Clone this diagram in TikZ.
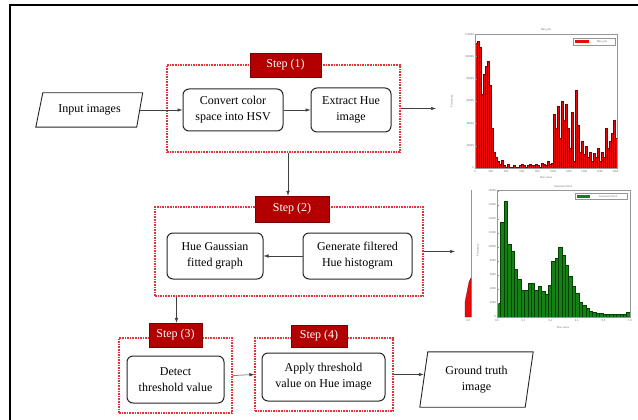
\documentclass[tikz,border=0pt]{standalone}
\usepackage{fontspec}
\setmainfont{Liberation Serif}
\usetikzlibrary{arrows.meta}
\definecolor{stepred}{RGB}{178,0,0}
\definecolor{grpred}{RGB}{228,50,62}
\definecolor{barred}{RGB}{235,10,10}
\definecolor{bargreen}{RGB}{22,128,22}
\definecolor{axisgray}{RGB}{150,150,150}

\begin{document}
\begin{tikzpicture}[x=1pt,y=-1pt,
  proc/.style={draw=black!85, line width=1pt, rounded corners=6pt, align=center,
    font=\fontsize{12}{16}\selectfont, inner sep=0pt},
  group/.style={draw=grpred, line width=1.1pt, dash pattern=on 1.6pt off 1pt, inner sep=0pt},
  steplabel/.style={fill=stepred, draw=stepred!70!black, line width=0.4pt, text=white,
    font=\fontsize{12}{14}\selectfont, inner sep=0pt},
  io/.style={inner sep=0pt, align=center, font=\fontsize{12}{16}\selectfont},
  iobox/.style={draw=black!85, line width=0.9pt},
  arr/.style={-{Latex[length=5pt,width=3.5pt]}, line width=0.5pt, draw=black!75},
  tinytext/.style={font=\fontsize{3}{3.5}\selectfont, text=black!55, inner sep=0pt},
  axisframe/.style={draw=axisgray, line width=0.4pt},
]
\useasboundingbox (0,0) rectangle (638,420);

% outer frame (top and left edges)
\draw[line width=2pt] (638,5) -- (10,5) -- (10,420);

% ---------- step groups ----------
\node[group, minimum width=233pt, minimum height=87pt] (box1) at (283.5,108.5) {};
\node[group, minimum width=268pt, minimum height=89pt] (box2) at (289,251.5) {};
\node[group, minimum width=113pt, minimum height=75pt] (box3) at (175.5,375.5) {};
\node[group, minimum width=138pt, minimum height=73pt] (box4) at (324,374.5) {};

\node[steplabel, minimum width=71pt, minimum height=24pt] (lab1) at (285.5,65) {Step (1)};
\node[steplabel, minimum width=74pt, minimum height=26pt] (lab2) at (292,209) {Step (2)};
\node[steplabel, minimum width=53pt, minimum height=24pt] (lab3) at (175.5,335) {Step (3)};
\node[steplabel, minimum width=56pt, minimum height=22pt] (lab4) at (319,336) {Step (4)};

% ---------- process boxes ----------
\node[proc, minimum width=100pt, minimum height=42pt] (conv) at (233,110) {Convert color\\space into HSV};
\node[proc, minimum width=80pt, minimum height=44pt] (ext) at (351,110) {Extract Hue\\image};
\node[proc, minimum width=96pt, minimum height=46pt] (hue) at (215,256) {Hue Gaussian\\fitted graph};
\node[proc, minimum width=109pt, minimum height=46pt] (gen) at (357.5,256) {Generate filtered\\Hue histogram};
\node[proc, minimum width=97pt, minimum height=47pt] (det) at (175.5,379.5) {Detect\\threshold value};
\node[proc, minimum width=123pt, minimum height=48pt] (app) at (323.5,377) {Apply threshold\\value on Hue image};

% ---------- input / output ----------
\node[io, minimum width=100pt, minimum height=34pt] (inp) at (89.5,110) {Input images};
\draw[iobox] ([xshift=-3.5pt]inp.south west) -- ([xshift=3.5pt]inp.north west)
  -- ([xshift=3pt]inp.north east) -- ([xshift=-3pt]inp.south east) -- cycle;
\node[io, minimum width=105pt, minimum height=55pt] (gt) at (476.5,379.5) {Ground truth\\image};
\draw[iobox] ([xshift=-4pt]gt.south west) -- ([xshift=4pt]gt.north west)
  -- ([xshift=4pt]gt.north east) -- ([xshift=-4pt]gt.south east) -- cycle;

% ---------- histogram of the Hue image ----------
\foreach \h [count=\i from 0] in {0.93,0.95,0.90,0.55,0.70,0.76,0.80,0.62,0.30,0.12,
  0.08,0.05,0.03,0.06,
  0.02,0.01,0.03,0.01,0.01,0.02,0.01,0.01,0.02,0.03,0.02,0.01,0.02,0.03,0.02,0.02,
  0.03,0.02,0.01,0.04,0.03,0.02,0.05,0.03,0.04,
  0.40,0.30,0.46,0.22,0.50,0.36,0.48,0.30,0.15,0.42,0.05,0.58,0.32,0.12,0.20,0.10,
  0.16,0.08,0.12,0.05,0.11,0.08,0.15,0.05,0.12,0.08,0.30,0.15,0.20,0.26,0.36,0.22}
  \filldraw[fill=barred, draw=red!45!black, line width=0.25pt]
    ({475+2*\i},168) rectangle ({477+2*\i},{168-134*\h});
\draw[axisframe] (475,34) rectangle (617,168);
\foreach \k/\t in {0/0,1/20000,2/40000,3/60000,4/80000,5/100000,6/120000} {
  \draw[axisgray, line width=0.3pt] (475,{168-\k*22.33}) -- ++(2,0);
  \node[tinytext, anchor=east] at (474,{168-\k*22.33}) {\t};
}
\foreach \k/\t in {0/0,1/200,2/400,3/600,4/800,5/1000,6/1200,7/1400,8/1600,9/1800} {
  \node[tinytext] at ({475+\k*15.6},172) {\t};
}
\node[tinytext] at (546,30) {Hue plot};
\node[tinytext] at (546,177) {Hue value};
\node[tinytext, rotate=90] at (452,101) {Frequency};
\draw[axisframe] (573,38) rectangle (615,45);
\fill[barred] (575,40) rectangle (589,43);
\node[tinytext] at (602,41.5) {Hue plot};

% ---------- filtered Hue histogram ----------
\draw[axisgray, line width=0.4pt] (471,190) -- (471,317);
\filldraw[fill=barred, draw=red!45!black, line width=0.25pt]
  (465,317) -- (465,302) -- (467,292) -- (469,282) -- (471,278) -- (471,317) -- cycle;
\node[tinytext] at (468,321) {0.0};
\foreach \h [count=\i from 0] in {0.11,0.75,0.91,0.57,0.52,0.38,0.30,0.21,0.21,0.27,
  0.27,0.21,0.24,0.20,0.18,0.25,0.44,0.46,0.55,0.49,0.41,0.32,0.24,0.19,0.12,
  0.09,0.07,0.05,0.04,0.03,0.03,0.02,0.02,0.02,0.02,0.02,0.02,0.02,0.04}
  \filldraw[fill=bargreen, draw=green!25!black, line width=0.25pt]
    ({497+3.41*\i},317) rectangle ({497+3.41*(\i+1)},{317-127*\h});
\draw[axisframe] (497,190) rectangle (630,317);
\foreach \k/\t in {0/0,1/2000,2/4000,3/6000,4/8000,5/10000,6/12000,7/14000,8/16000,9/18000} {
  \draw[axisgray, line width=0.3pt] (497,{317-\k*14}) -- ++(2,0);
  \node[tinytext, anchor=east] at (496,{317-\k*14}) {\t};
}
\foreach \k/\t in {0/0.0,1/0.2,2/0.4,3/0.6,4/0.8,5/1.0} {
  \node[tinytext] at ({497+\k*26.6},321) {\t};
}
\node[tinytext] at (563,186) {Gaussian fitted};
\node[tinytext] at (563,327) {Hue value};
\node[tinytext, rotate=90] at (478,250) {Frequency};
\draw[axisframe] (575,193) rectangle (627,199);
\fill[bargreen] (577,195) rectangle (590,197.5);
\node[tinytext] at (608,196) {Gaussian fitted};

% ---------- connectors ----------
\coordinate (h1) at (436,108.5);
\coordinate (h2) at (455,251.5);
\draw[arr] (inp.east) -- (conv.west);
\draw[arr] (conv.east) -- (ext.west);
\draw[arr] (box1.east) -- (h1);
\draw[arr] ([xshift=4.5pt]box1.south) -- ([xshift=4.5pt]box1.south |- lab2.north);
\draw[arr] (gen.west) -- (hue.east);
\draw[arr] (box2.east) -- (h2);
\draw[arr] ([xshift=22pt]box2.south west) -- ([xshift=22pt]box2.south west |- lab3.north);
\draw[arr] (box3.east) -- (box4.west);
\draw[arr] (box4.east) -- (box4.east -| gt.west);
\end{tikzpicture}
\end{document}
